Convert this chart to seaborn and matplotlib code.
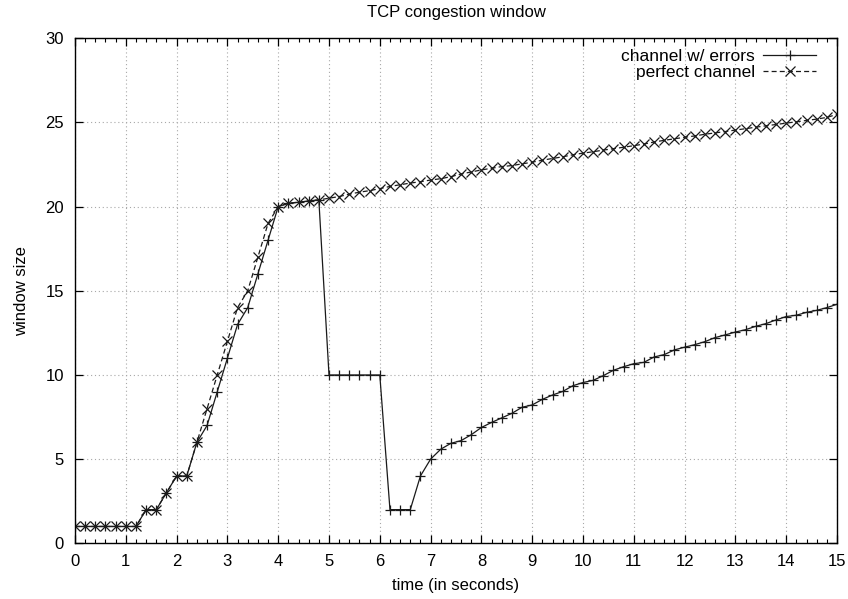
import matplotlib
matplotlib.use("Agg")
import matplotlib.pyplot as plt
import seaborn as sns
import pandas as pd
from matplotlib.ticker import MultipleLocator

time_s = [0.0, 0.2, 0.4, 0.6, 0.8, 1.0, 1.2, 1.4, 1.6, 1.8,
          2.0, 2.2, 2.4, 2.6, 2.8, 3.0, 3.2, 3.4, 3.6, 3.8,
          4.0, 4.2, 4.4, 4.6, 4.8, 5.0, 5.2, 5.4, 5.6, 5.8,
          6.0, 6.2, 6.4, 6.6, 6.8, 7.0, 7.2, 7.4, 7.6, 7.8,
          8.0, 8.2, 8.4, 8.6, 8.8, 9.0, 9.2, 9.4, 9.6, 9.8,
          10.0, 10.2, 10.4, 10.6, 10.8, 11.0, 11.2, 11.4, 11.6, 11.8,
          12.0, 12.2, 12.4, 12.6, 12.8, 13.0, 13.2, 13.4, 13.6, 13.8,
          14.0, 14.2, 14.4, 14.6, 14.8, 15.0]

errors_win = [1, 1, 1, 1, 1, 1, 1, 2, 2, 3,
              4, 4, 6, 7, 9, 11, 13, 14, 16, 18,
              20, 20.2, 20.26, 20.34, 20.4, 10, 10, 10, 10, 10,
              10, 2, 2, 2, 4, 5, 5.59, 5.94, 6.1, 6.45,
              6.88, 7.18, 7.45, 7.72, 8.08, 8.22, 8.55, 8.81, 9.02, 9.36,
              9.55, 9.68, 9.96, 10.28, 10.49, 10.67, 10.75, 11.07, 11.21, 11.49,
              11.65, 11.8, 11.98, 12.22, 12.38, 12.55, 12.69, 12.89, 13.05, 13.27,
              13.47, 13.55, 13.72, 13.84, 14.0, 14.2]

perfect_win = [1, 1, 1, 1, 1, 1, 1, 2, 2, 3,
               4, 4, 6, 8, 10, 12, 14, 15, 17, 19,
               20, 20.2, 20.26, 20.34, 20.4, 20.5, 20.6, 20.74, 20.86, 20.95,
               21.07, 21.2, 21.3, 21.4, 21.48, 21.58, 21.66, 21.78, 21.94, 22.06,
               22.18, 22.28, 22.38, 22.44, 22.54, 22.64, 22.76, 22.86, 22.96, 23.08,
               23.18, 23.26, 23.36, 23.44, 23.53, 23.62, 23.72, 23.84, 23.94, 24.03,
               24.12, 24.2, 24.3, 24.38, 24.46, 24.55, 24.63, 24.72, 24.8, 24.88,
               24.96, 25.04, 25.12, 25.2, 25.3, 25.48]

labels = ["channel w/ errors", "perfect channel"]

plt.rcParams['font.family'] = ['Liberation Sans', 'DejaVu Sans']

df_err = pd.DataFrame({"t": time_s, "w": errors_win})
df_perf = pd.DataFrame({"t": time_s, "w": perfect_win})

fig = plt.figure(figsize=(8.48, 5.99), dpi=100)
ax = fig.add_axes([75/848, 1-543.3/599, (837-75)/848, (543.3-38.3)/599])

lc = "#1a1a1a"
sns.lineplot(data=df_err, x="t", y="w", ax=ax, color=lc, linewidth=0.9,
             marker="+", markersize=7.5, markeredgewidth=0.9,
             markeredgecolor=lc, label=labels[0])
sns.lineplot(data=df_perf, x="t", y="w", ax=ax, color=lc, linewidth=0.9,
             linestyle=(0, (4, 2.5)), marker="x", markersize=6.5,
             markeredgewidth=0.9, markeredgecolor=lc, label=labels[1])

ax.set_xlim(0, 15)
ax.set_ylim(0, 30)
ax.xaxis.set_major_locator(MultipleLocator(1))
ax.xaxis.set_minor_locator(MultipleLocator(0.2))
ax.yaxis.set_major_locator(MultipleLocator(5))

ax.tick_params(axis='both', which='major', direction='in', length=5.5,
               width=0.9, top=True, right=True, labelsize=12, pad=8,
               color='black')
ax.tick_params(axis='x', which='minor', direction='in', length=3,
               width=0.8, top=True, bottom=True)
for s in ax.spines.values():
    s.set_linewidth(1.0)
    s.set_color('black')

ax.grid(True, which='major', color='#a8a8a8', linestyle=(0, (1, 2.5)),
        linewidth=0.8)
ax.set_axisbelow(True)

ax.set_title("TCP congestion window", fontsize=12, pad=15)
ax.set_xlabel("time (in seconds)", fontsize=12, labelpad=6)
ax.set_ylabel("window size", fontsize=12, labelpad=12)

leg = ax.legend(loc='upper right', frameon=False, markerfirst=False,
                fontsize=12.5, handlelength=3.0, handletextpad=0.5,
                labelspacing=0.05, borderaxespad=0.0,
                bbox_to_anchor=(0.981, 0.992))

fig.savefig("out.png", dpi=100)
